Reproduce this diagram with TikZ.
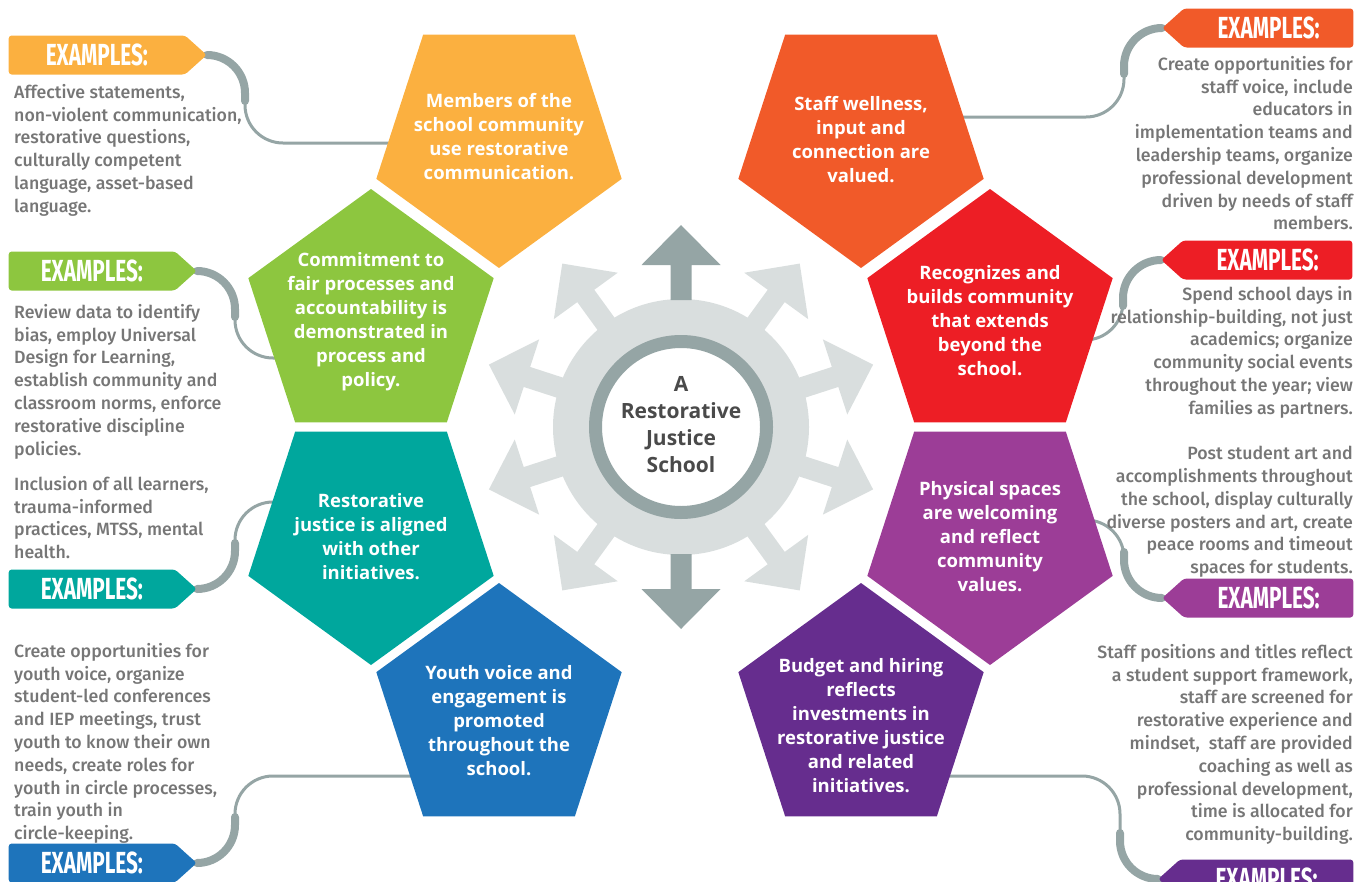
\documentclass[tikz,border=0pt]{standalone}
\usepackage{fontspec}
\setmainfont{Open Sans}
\newfontfamily\notefont{Fira Sans}[UprightFont={* Medium}]
\newfontfamily\tagfont{Fira Sans}[UprightFont={* Bold}, FakeStretch=0.68]
\usepackage{tikz}
\usetikzlibrary{shapes.geometric, shapes.symbols, backgrounds}
\definecolor{rjorange}{RGB}{251,176,64}
\definecolor{rjvermilion}{RGB}{241,90,41}
\definecolor{rjred}{RGB}{237,30,37}
\definecolor{rjgreen}{RGB}{141,198,63}
\definecolor{rjteal}{RGB}{0,167,157}
\definecolor{rjmagenta}{RGB}{156,61,151}
\definecolor{rjblue}{RGB}{30,116,187}
\definecolor{rjpurple}{RGB}{102,45,142}
\definecolor{hubpale}{RGB}{217,222,222}
\definecolor{hubdark}{RGB}{149,165,165}
\definecolor{notegray}{RGB}{118,118,118}
\definecolor{coregray}{RGB}{74,74,74}

\begin{document}
\begin{tikzpicture}[x=1pt, y=1pt,
    pent/.style={regular polygon, regular polygon sides=5, minimum size=258pt, inner sep=0pt, outer sep=0pt},
    pointdown/.style={shape border rotate=180},
    pentext/.style={text=white, align=center, inner sep=0pt, font=\bfseries\fontsize{18.5}{24}\selectfont},
    coretext/.style={text=coregray, align=center, inner sep=0pt, font=\bfseries\fontsize{21}{27}\selectfont},
    tag/.style={signal, signal pointer angle=84, rounded corners=3pt, minimum height=39pt, minimum width=188pt, inner sep=0pt, text=white, font=\tagfont\fontsize{30.5}{30}\selectfont},
    note/.style={inner sep=0pt, text=notegray, font=\notefont\fontsize{17.75}{22.8}\selectfont},
    link/.style={draw=hubdark, line width=3pt, rounded corners=38pt},
    heavylink/.style={draw=hubdark, line width=8pt, line cap=round},
]
    \useasboundingbox (0,0) rectangle (1359,-881);
    \coordinate (hub) at (681,-427);

    % Hub: pale disc with arrows, dark ring
    \foreach \a in {18,54,126,162,198,234,306,342}
        \fill[hubpale, shift={(hub)}, rotate=\a] (100,-10.5) -- (162,-10.5) -- (162,-39.5) -- (202,0) -- (162,39.5) -- (162,10.5) -- (100,10.5) -- cycle;
    \fill[hubpale] (hub) circle[radius=128];
    \foreach \a in {90,270}
        \fill[hubdark, shift={(hub)}, rotate=\a] (127,-10.5) -- (162,-10.5) -- (162,-39.5) -- (202,0) -- (162,39.5) -- (162,10.5) -- (127,10.5) -- cycle;
    \draw[hubdark, line width=13pt, fill=white] (hub) circle[radius=85.5];
    \node[coretext] (core) at (681,-425) {A\\Restorative\\Justice\\School};

    % Upper pair
    \node[pent, pointdown, fill=rjorange] (comm) at (499,-139) {};
    \node[pent, pointdown, fill=rjvermilion] (staff) at (861,-139) {};
    % Second row
    \node[pent, fill=rjgreen] (fair) at (371,-318) {};
    \node[pent, fill=rjred] (reach) at (990,-318) {};
    % Third row
    \node[pent, pointdown, fill=rjteal] (aligned) at (371,-536) {};
    \node[pent, pointdown, fill=rjmagenta] (space) at (990,-536) {};
    % Lower pair
    \node[pent, fill=rjblue] (youth) at (499,-712) {};
    \node[pent, fill=rjpurple] (budget) at (861,-712) {};

    % Pentagon texts
    \node[pentext] (commtext) at (499,-137) {Members of the\\school community\\use restorative\\communication.};
    \node[pentext] (stafftext) at (861,-140) {Staff wellness,\\input and\\connection are\\valued.};
    \node[pentext] (fairtext) at (371,-322) {Commitment to\\fair processes and\\accountability is\\demonstrated in\\process and\\policy.};
    \node[pentext] (reachtext) at (990,-321) {Recognizes and\\builds community\\that extends\\beyond the\\school.};
    \node[pentext] (alignedtext) at (371,-537) {Restorative\\justice is aligned\\with other\\initiatives.};
    \node[pentext] (spacetext) at (990,-537) {Physical spaces\\are welcoming\\and reflect\\community\\values.};
    \node[pentext] (youthtext) at (499,-721) {Youth voice and\\engagement is\\promoted\\throughout the\\school.};
    \node[pentext] (budgettext) at (861,-726) {Budget and hiring\\reflects\\investments in\\restorative justice\\and related\\initiatives.};

    % Example tags, left column
    \node[tag, fill=rjorange, minimum width=198pt, anchor=east] (otag) at (207,-55) {EXAMPLES:};
    \node[tag, fill=rjgreen, anchor=east] (gtag) at (197,-271) {EXAMPLES:};
    \node[tag, fill=rjteal, anchor=east] (ttag) at (197,-589) {EXAMPLES:};
    \node[tag, fill=rjblue, anchor=east] (btag) at (197,-863) {EXAMPLES:};
    % Example tags, right column
    \node[tag, signal to=west, fill=rjvermilion, minimum width=191pt, anchor=west] (vtag) at (1162,-28) {EXAMPLES:};
    \node[tag, signal to=west, fill=rjred, minimum width=191pt, anchor=west] (rtag) at (1161,-260) {EXAMPLES:};
    \node[tag, signal to=west, fill=rjmagenta, minimum width=191pt, anchor=west] (mtag) at (1162,-598) {EXAMPLES:};
    \node[tag, signal to=west, fill=rjpurple, minimum width=195pt, anchor=west] (ptag) at (1158,-879) {EXAMPLES:};

    % Connectors, under the shapes
    \begin{scope}[on background layer]
        \draw[link] (otag.east) -- ++(38,0) |- (comm |- 0,-143);
        \draw[link] (gtag.east) -- ++(38,0) |- (fair |- 0,-358);
        \draw[link] (ttag.east) -- ++(38,0) |- (aligned |- 0,-502);
        \draw[link] (btag.east) -- ++(38,0) |- (youth |- 0,-776);
        \draw[link] (vtag.west) -- ++(-38,0) |- (staff |- 0,-117);
        \draw[link] (rtag.west) -- ++(-38,0) |- (reach |- 0,-340);
        \draw[link] (mtag.west) -- ++(-38,0) |- (space |- 0,-520);
        \draw[link] (ptag.west) -- ++(-38,0) |- (budget |- 0,-776);
        \draw[heavylink] (otag.east) arc[start angle=90, end angle=0, radius=38pt] -- ++(0,-8);
        \draw[heavylink] (gtag.east) arc[start angle=90, end angle=0, radius=38pt] -- ++(0,-8);
        \draw[heavylink] (ttag.east) arc[start angle=-90, end angle=0, radius=38pt] -- ++(0,8);
        \draw[heavylink] (btag.east) arc[start angle=-90, end angle=0, radius=38pt] -- ++(0,8);
        \draw[heavylink] (vtag.west) arc[start angle=90, end angle=180, radius=38pt] -- ++(0,-8);
        \draw[heavylink] (rtag.west) arc[start angle=90, end angle=180, radius=38pt] -- ++(0,-8);
        \draw[heavylink] (mtag.west) arc[start angle=-90, end angle=-180, radius=38pt] -- ++(0,8);
        \draw[heavylink] (ptag.west) arc[start angle=-90, end angle=-180, radius=38pt] -- ++(0,8);
    \end{scope}

    % Example texts, left column
    \node[note, align=left, anchor=north west] (onote) at (14,-84) {Affective statements,\\non-violent communication,\\restorative questions,\\culturally competent\\language, asset-based\\language.};
    \node[note, align=left, anchor=north west] (gnote) at (14,-304) {Review data to identify\\bias, employ Universal\\Design for Learning,\\establish community and\\classroom norms, enforce\\restorative discipline\\policies.};
    \node[note, align=left, anchor=north west] (tnote) at (14,-476) {Inclusion of all learners,\\trauma-informed\\practices, MTSS, mental\\health.};
    \node[note, align=left, anchor=north west] (bnote) at (14,-643) {Create opportunities for\\youth voice, organize\\student-led conferences\\and IEP meetings, trust\\youth to know their own\\needs, create roles for\\youth in circle processes,\\train youth in\\circle-keeping.};
    % Example texts, right column
    \node[note, align=right, anchor=north east] (vnote) at (1353,-56) {Create opportunities for\\staff voice, include\\educators in\\implementation teams and\\leadership teams, organize\\professional development\\driven by needs of staff\\members.};
    \node[note, align=right, anchor=north east] (rnote) at (1353,-286) {Spend school days in\\relationship-building, not just\\academics; organize\\community social events\\throughout the year; view\\families as partners.};
    \node[note, align=right, anchor=north east] (mnote) at (1353,-446) {Post student art and\\accomplishments throughout\\the school, display culturally\\diverse posters and art, create\\peace rooms and timeout\\spaces for students.};
    \node[note, align=right, anchor=north east] (pnote) at (1353,-644) {Staff positions and titles reflect\\a student support framework,\\staff are screened for\\restorative experience and\\mindset,\ \ staff are provided\\coaching as well as\\professional development,\\time is allocated for\\community-building.};
\end{tikzpicture}
\end{document}
